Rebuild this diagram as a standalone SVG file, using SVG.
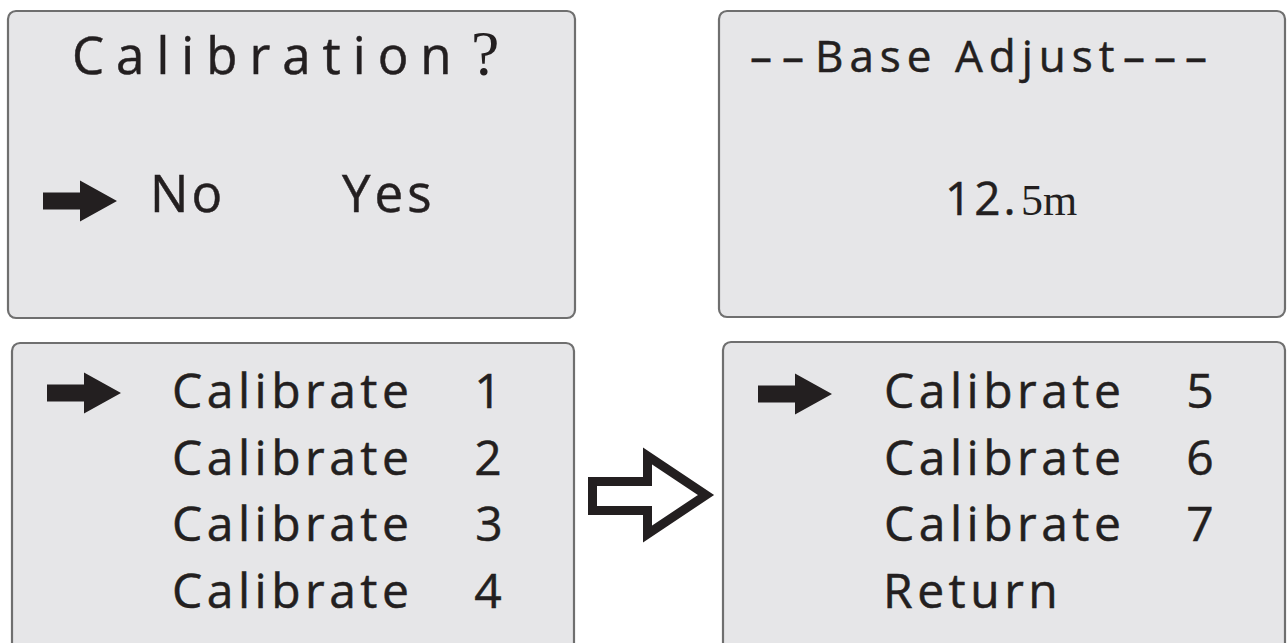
<svg xmlns="http://www.w3.org/2000/svg" width="1287" height="643" viewBox="0 0 1287 643">
  <style>
    .panel { fill: #e6e6e8; stroke: #6f6f6f; stroke-width: 2.2; }
    .lbl { font-family: "Open Sans", "Liberation Sans", sans-serif; fill: #231f20; stroke: #231f20; stroke-width: 0.5; }
    .menu { font-size: 48px; letter-spacing: 4.5px; }
    .num { font-size: 48px; text-anchor: middle; }
    .ptr { fill: #231f20; }
  </style>
  <defs>
    <!-- solid selection pointer, origin at tail / centre line -->
    <path id="pointer" d="M0,-8.5 H37 V-20.5 L74,0 L37,20.5 V8.5 H0 Z"/>
  </defs>

  <rect width="1287" height="643" fill="#ffffff"/>

  <!-- Calibration prompt screen -->
  <g id="screen-calibration">
    <rect class="panel" x="8" y="11" width="567" height="307" rx="8"/>
    <text class="lbl" x="72" y="74" font-size="51" letter-spacing="12">Calibration<tspan x="471" y="75" font-family="Liberation Serif, serif" font-size="64" stroke-width="0" letter-spacing="0">?</tspan></text>
    <use href="#pointer" class="ptr" x="43" y="201"/>
    <text class="lbl" x="150" y="212" font-size="51" letter-spacing="3">No</text>
    <text class="lbl" x="342" y="212" font-size="51" letter-spacing="4">Yes</text>
  </g>

  <!-- Base adjust screen -->
  <g id="screen-base-adjust">
    <rect class="panel" x="719" y="11" width="566" height="306" rx="8"/>
    <text class="lbl" x="750" y="72" font-size="44" letter-spacing="10">––<tspan x="815" letter-spacing="6">Base Adjust</tspan><tspan x="1123" letter-spacing="9">–––</tspan></text>
    <text class="lbl" x="945" y="215" font-size="46" letter-spacing="3">12.<tspan x="1021" font-family="Liberation Serif, serif" font-size="44" stroke-width="0" letter-spacing="0">5m</tspan></text>
  </g>

  <!-- Calibrate menu, page 1 -->
  <g id="screen-menu-1">
    <rect class="panel" x="12" y="343" width="562" height="330" rx="8"/>
    <use href="#pointer" class="ptr" x="47" y="393"/>
    <text class="lbl menu" x="172" y="408">Calibrate</text>
    <text class="lbl num" x="488" y="408">1</text>
    <text class="lbl menu" x="172" y="475">Calibrate</text>
    <text class="lbl num" x="488" y="475">2</text>
    <text class="lbl menu" x="172" y="541">Calibrate</text>
    <text class="lbl num" x="489" y="541">3</text>
    <text class="lbl menu" x="172" y="608">Calibrate</text>
    <text class="lbl num" x="488" y="608">4</text>
  </g>

  <!-- Calibrate menu, page 2 -->
  <g id="screen-menu-2">
    <rect class="panel" x="723" y="342" width="562" height="330" rx="8"/>
    <use href="#pointer" class="ptr" x="758" y="394"/>
    <text class="lbl menu" x="884" y="408">Calibrate</text>
    <text class="lbl num" x="1200" y="408">5</text>
    <text class="lbl menu" x="884" y="475">Calibrate</text>
    <text class="lbl num" x="1200" y="475">6</text>
    <text class="lbl menu" x="884" y="541">Calibrate</text>
    <text class="lbl num" x="1200" y="541">7</text>
    <text class="lbl menu" x="883" y="608">Return</text>
  </g>

  <!-- page-to-page transition -->
  <g id="connectors">
    <polygon points="592.5,481.5 647.5,481.5 647.5,456 706,495 647.5,534 647.5,510.5 592.5,510.5"
             fill="#ffffff" stroke="#231f20" stroke-width="9" stroke-linejoin="miter"/>
  </g>
</svg>
